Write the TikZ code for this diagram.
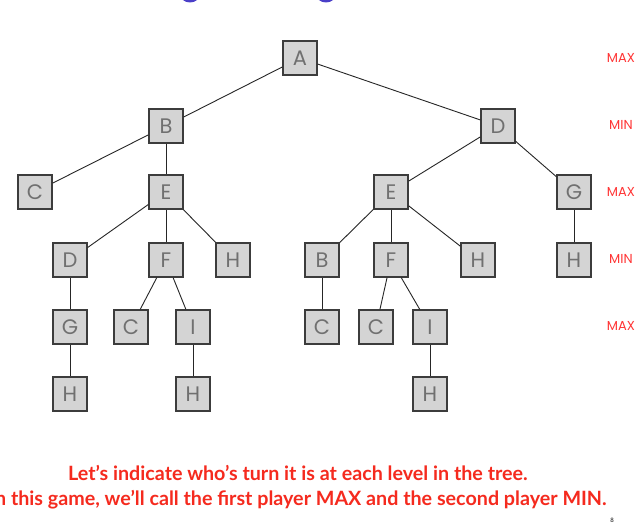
\documentclass[tikz,border=0pt]{standalone}
\usepackage{fontspec}
\setmainfont{Lato}
\newfontfamily\boxfont{Poppins}
\definecolor{boxfill}{HTML}{D4D4D4}
\definecolor{boxline}{HTML}{3C3C3C}
\definecolor{boxtext}{HTML}{707070}
\definecolor{lvl}{HTML}{FF3636}
\definecolor{note}{HTML}{F52A1E}
\definecolor{ttl}{HTML}{4A3FC8}
\tikzset{
  st/.style={draw=boxline, line width=1.4pt, fill=boxfill, minimum size=34pt, inner sep=0pt,
    text=boxtext, font=\boxfont\fontsize{21}{21}\selectfont},
  lv/.style={text=lvl, font=\boxfont\fontsize{13}{13}\selectfont},
  ed/.style={draw=black!85, line width=0.9pt},
  nt/.style={text=note, font=\bfseries\fontsize{19.7}{19.7}\selectfont}
}
\begin{document}
\begin{tikzpicture}[x=1pt,y=-1pt]
\clip (0,0) rectangle (642,524);
\fill[white] (0,0) rectangle (642,524);
% partial title glyphs
\fill[ttl] (190,-6) ellipse [x radius=10pt, y radius=8.5pt];
\fill[white] (190,-7) ellipse [x radius=7pt, y radius=7pt];
\fill[ttl] (326,-6) ellipse [x radius=10pt, y radius=8.5pt];
\fill[white] (326,-7) ellipse [x radius=7pt, y radius=7pt];
% nodes
\node[st] (A) at (300,58) {A};
\node[st] (B) at (166,126) {B};
\node[st] (D) at (498,126) {D};
\node[st] (C1) at (35,192) {C};
\node[st] (E1) at (166,192) {E};
\node[st] (E2) at (391,192) {E};
\node[st] (G2) at (574,192) {G};
\node[st] (D1) at (70,260) {D};
\node[st] (F1) at (166,260) {F};
\node[st] (H1) at (233,260) {H};
\node[st] (B2) at (322,260) {B};
\node[st] (F2) at (391,260) {F};
\node[st] (H2) at (478,260) {H};
\node[st] (H3) at (574,260) {H};
\node[st] (G1) at (70,327) {G};
\node[st] (C2) at (131,327) {C};
\node[st] (I1) at (193,327) {I};
\node[st] (C3) at (322,327) {C};
\node[st] (C4) at (376,327) {C};
\node[st] (I2) at (430,327) {I};
\node[st] (H4) at (70,394) {H};
\node[st] (H5) at (193,394) {H};
\node[st] (H6) at (430,394) {H};
% edges
\draw[ed] (A) -- (B);
\draw[ed] (A) -- (D);
\draw[ed] (B) -- (C1);
\draw[ed] (B) -- (E1);
\draw[ed] (E1) -- (D1);
\draw[ed] (E1) -- (F1);
\draw[ed] (E1) -- (H1);
\draw[ed] (D1) -- (G1);
\draw[ed] (G1) -- (H4);
\draw[ed] (F1) -- (C2);
\draw[ed] (F1) -- (I1);
\draw[ed] (I1) -- (H5);
\draw[ed] (D) -- (E2);
\draw[ed] (D) -- (G2);
\draw[ed] (E2) -- (B2);
\draw[ed] (E2) -- (F2);
\draw[ed] (E2) -- (H2);
\draw[ed] (B2) -- (C3);
\draw[ed] (F2) -- (C4);
\draw[ed] (F2) -- (I2);
\draw[ed] (I2) -- (H6);
\draw[ed] (G2) -- (H3);
% level labels
\node[lv] (L0) at (621,58) {MAX};
\node[lv] (L1) at (621,125) {MIN};
\node[lv] (L2) at (621,192) {MAX};
\node[lv] (L3) at (621,259) {MIN};
\node[lv] (L4) at (621,326) {MAX};
% notes
\node[nt, anchor=base] (N1) at (298,480) {Let’s indicate who’s turn it is at each level in the tree.};
\node[nt, anchor=base] (N2) at (298,505) {In this game, we’ll call the first player MAX and the second player MIN.};
\node[font=\fontsize{6}{6}\selectfont, anchor=base, inner sep=0pt] (pg) at (612,522.5) {8};
\end{tikzpicture}
\end{document}
